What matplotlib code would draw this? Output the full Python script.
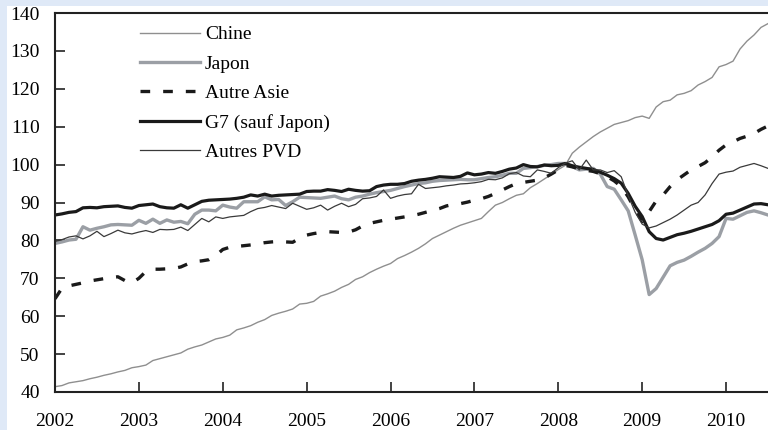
import numpy as np
import matplotlib
matplotlib.use("Agg")
import matplotlib.pyplot as plt
from matplotlib.patches import Rectangle

plt.rcParams['font.family'] = ['Liberation Serif', 'DejaVu Serif']
plt.rcParams['font.size'] = 14

# Monthly indices, Jan 2002 to Jul 2010
chine = [41.4, 41.7, 42.4, 42.7, 43.0, 43.5, 43.9, 44.4, 44.8, 45.3, 45.7, 46.4,
         46.7, 47.1, 48.3, 48.8, 49.3, 49.8, 50.3, 51.3, 51.9, 52.4, 53.2, 54.0,
         54.4, 55.0, 56.4, 56.9, 57.5, 58.4, 59.1, 60.2, 60.8, 61.3, 61.9, 63.2,
         63.4, 63.9, 65.3, 65.9, 66.6, 67.6, 68.4, 69.7, 70.4, 71.5, 72.4, 73.2,
         73.9, 75.2, 76.0, 76.9, 77.9, 79.1, 80.5, 81.4, 82.3, 83.2, 84.0, 84.6,
         85.2, 85.8, 87.6, 89.3, 90.0, 91.0, 91.9, 92.3, 93.9, 95.0, 96.2, 97.4,
         98.7, 99.8, 103.0, 104.6, 106.0, 107.4, 108.6, 109.6, 110.6, 111.1, 111.6, 112.4,
         112.8, 112.2, 115.2, 116.6, 117.0, 118.4, 118.8, 119.5, 121.0, 121.9, 123.0, 125.8,
         126.4, 127.3, 130.5, 132.6, 134.2, 136.2, 137.2]

japon = [79.2, 79.6, 80.1, 80.3, 83.6, 82.7, 83.2, 83.6, 84.1, 84.2, 84.1, 84.0,
         85.3, 84.5, 85.6, 84.5, 85.4, 84.8, 85.0, 84.4, 86.9, 88.0, 88.0, 87.8,
         89.3, 88.8, 88.5, 90.2, 90.2, 90.2, 91.5, 90.7, 90.8, 89.2, 90.2, 91.4,
         91.3, 91.2, 91.1, 91.4, 91.7, 91.0, 90.7, 91.4, 91.7, 92.2, 92.6, 92.9,
         93.2, 93.7, 94.2, 94.6, 95.0, 95.2, 95.6, 95.8, 95.9, 96.0, 96.1, 96.0,
         96.0, 96.3, 96.6, 96.8, 97.2, 97.7, 97.7, 99.0, 99.2, 99.5, 99.8, 100.0,
         100.3, 100.3, 99.5, 98.6, 98.8, 99.0, 97.5, 94.2, 93.5, 90.7, 87.8, 81.4,
         74.9, 65.7, 67.3, 70.3, 73.3, 74.2, 74.8, 75.8, 76.9, 77.9, 79.2, 81.0,
         85.8, 85.6, 86.5, 87.4, 87.8, 87.3, 86.7]

autre_asie = [64.6, 67.4, 68.0, 68.4, 68.8, 69.3, 69.6, 69.9, 70.2, 70.4, 69.4, 68.8,
              70.0, 71.8, 72.4, 72.4, 72.5, 72.6, 73.0, 73.8, 74.4, 74.6, 74.9, 76.0,
              77.6, 78.2, 78.4, 78.6, 78.8, 79.1, 79.4, 79.6, 79.7, 79.6, 79.5, 80.6,
              81.4, 81.8, 82.1, 82.3, 82.2, 82.1, 82.2, 82.8, 83.8, 84.5, 84.9, 85.3,
              85.6, 85.9, 86.2, 86.5, 86.9, 87.4, 87.9, 88.4, 89.1, 89.5, 89.7, 90.1,
              90.6, 91.0, 91.6, 92.4, 93.3, 94.2, 95.0, 95.3, 95.6, 95.9, 96.5, 97.5,
              98.6, 99.8, 99.4, 98.9, 98.5, 98.2, 97.6, 96.8, 95.7, 94.2, 91.5, 88.0,
              85.0, 87.6, 90.4, 92.0, 94.2, 96.0, 97.3, 98.6, 99.5, 100.5, 102.0, 103.8,
              105.2, 106.0, 106.9, 107.5, 108.2, 109.3, 110.2]

g7 = [86.7, 87.0, 87.4, 87.6, 88.6, 88.7, 88.6, 88.9, 89.0, 89.1, 88.7, 88.5,
      89.2, 89.4, 89.6, 88.9, 88.6, 88.5, 89.4, 88.5, 89.4, 90.3, 90.6, 90.7,
      90.8, 90.9, 91.1, 91.4, 92.0, 91.7, 92.2, 91.7, 91.9, 92.0, 92.1, 92.2,
      92.9, 93.0, 93.0, 93.4, 93.2, 92.9, 93.5, 93.2, 93.0, 93.1, 94.2, 94.6,
      94.8, 94.8, 95.0, 95.6, 95.9, 96.1, 96.4, 96.8, 96.7, 96.6, 96.9, 97.8,
      97.3, 97.5, 97.9, 97.7, 98.2, 98.8, 99.1, 100.0, 99.5, 99.4, 99.9, 99.7,
      99.8, 100.3, 99.7, 99.3, 99.0, 98.7, 98.0, 97.2, 96.3, 95.1, 92.4, 89.0,
      86.3, 82.3, 80.5, 80.1, 80.8, 81.5, 81.9, 82.4, 83.0, 83.6, 84.2, 85.2,
      86.9, 87.2, 88.0, 88.8, 89.6, 89.7, 89.4]

autres_pvd = [79.7, 80.2, 80.9, 81.2, 80.4, 81.2, 82.4, 81.0, 81.8, 82.7, 82.0, 81.7,
              82.2, 82.6, 82.1, 82.9, 82.8, 82.9, 83.5, 82.6, 84.2, 85.8, 84.9, 86.2,
              85.8, 86.2, 86.4, 86.6, 87.6, 88.4, 88.7, 89.2, 88.8, 88.4, 89.8, 89.0,
              88.2, 88.6, 89.3, 88.0, 89.0, 89.8, 88.9, 89.5, 91.0, 91.2, 91.6, 93.3,
              91.1, 91.7, 92.1, 92.3, 94.8, 93.7, 93.9, 94.1, 94.4, 94.6, 94.9, 95.0,
              95.2, 95.5, 96.1, 96.0, 96.5, 97.6, 97.9, 97.0, 96.8, 98.6, 98.2, 97.7,
              99.2, 100.4, 101.0, 98.6, 101.2, 98.6, 98.6, 97.9, 98.4, 96.8, 91.8, 87.4,
              84.3, 83.3, 83.8, 84.7, 85.6, 86.7, 88.0, 89.3, 90.0, 92.0, 95.0, 97.5,
              98.0, 98.3, 99.3, 99.8, 100.3, 99.7, 99.0]

years = [2002, 2003, 2004, 2005, 2006, 2007, 2008, 2009, 2010]
y_ticks = [40, 50, 60, 70, 80, 90, 100, 110, 120, 130, 140]

# x position of each monthly point, in years
x = 2002 + np.arange(len(chine)) / 12

fig = plt.figure(figsize=(7.68, 4.30), dpi=100, facecolor='#dfe9f7')
# white page with a thin light blue border on the left and top
fig.patches.append(Rectangle((7 / 768, 0), 1, 1 - 6 / 430, transform=fig.transFigure,
                             facecolor='white', edgecolor='none', zorder=-1))

ax = fig.add_axes([55 / 768, 1 - 392 / 430, 1 - 55 / 768, (392 - 13) / 430])

ax.plot(x, chine, color='#8f8f8f', lw=1.0, label='Chine')
ax.plot(x, japon, color='#9b9fa5', lw=2.4, label='Japon')
ax.plot(x, autre_asie, color='#1a1a1a', lw=2.4, ls=(0, (2.9, 3.9)), label='Autre Asie')
ax.plot(x, g7, color='#1a1a1a', lw=2.3, label='G7 (sauf Japon)')
ax.plot(x, autres_pvd, color='#3a3a3a', lw=0.9, label='Autres PVD')

ax.set_xlim(2002, 2010.5)
ax.set_ylim(40, 140)
ax.set_xticks(years)
ax.set_xticklabels([str(y) for y in years])
ax.set_yticks(y_ticks)

for side in ['left', 'bottom', 'top']:
    ax.spines[side].set_linewidth(1.5)
    ax.spines[side].set_color('#222222')
ax.spines['right'].set_visible(False)

ax.tick_params(axis='y', direction='in', length=7, width=1.2, pad=11, color='#222222')
ax.tick_params(axis='x', direction='in', length=7, width=1.2, pad=15, color='#222222')

ax.legend(loc='upper left', bbox_to_anchor=(0.119, 0.966), frameon=False,
          borderpad=0, borderaxespad=0, handlelength=3.1, handletextpad=0.25,
          labelspacing=0.6)

fig.savefig('out.png', dpi=100, facecolor=fig.get_facecolor())
